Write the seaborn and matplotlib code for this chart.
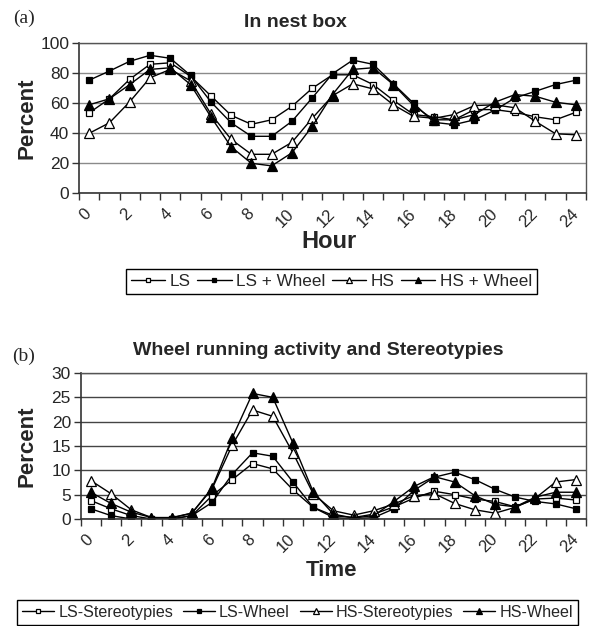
import matplotlib
matplotlib.use("Agg")
import matplotlib.pyplot as plt
import matplotlib.transforms as mtransforms
import numpy as np
import seaborn as sns

# ── Data ───────────────────────────────────────────────────────────────────
hours = list(range(25))

nest_ls = [53.6, 63, 76, 86, 87, 78, 65, 52, 46, 49, 58, 70, 79,
           79, 72.5, 62, 52.5, 51, 49, 55.8, 55.8, 54, 51, 49, 54]
nest_ls_wheel = [75.4, 81.5, 88, 92, 90, 78.6, 61, 47, 38, 38, 48, 63.6, 79.7,
                 88.8, 86, 73, 60, 47.3, 45.8, 49, 55.4, 63.6, 68, 72.5, 75.4]
nest_hs = [40, 47, 61, 77, 82.6, 75, 53, 36, 26, 26, 34, 50, 65,
           73, 69.6, 59, 51.3, 50, 52.5, 58.5, 59, 57, 48, 39.7, 39]
nest_hs_wheel = [59, 63, 72.5, 82.6, 83.7, 72.5, 51, 31, 20, 18.3, 27, 44.6, 65.8,
                 82.6, 83.7, 72.5, 58.5, 49, 49, 52.5, 60.7, 65.8, 64.7, 60.7, 59]

ls_stereo = [3.8, 2.1, 0.7, 0, 0, 0.7, 4.8, 8.1, 11.4, 10.3, 6.0, 2.4, 0.7,
             0.3, 1.0, 2.5, 4.3, 5.7, 5.0, 4.1, 3.6, 2.5, 4.1, 4.3, 3.9]
ls_wheel = [2.1, 0.7, 0, 0, 0, 0.7, 3.4, 9.2, 13.6, 12.9, 7.6, 2.4, 0.3,
            0, 0.3, 2.1, 5.9, 8.6, 9.6, 8.1, 6.1, 4.5, 3.6, 3.1, 2.1]
hs_stereo = [7.9, 5.2, 1.9, 0.3, 0.3, 1.2, 6.2, 15.2, 22.4, 21.1, 13.6, 5.2, 1.7,
             0.8, 1.7, 3.1, 4.8, 5.2, 3.2, 1.9, 1.2, 2.4, 4.3, 7.6, 8.1]
hs_wheel = [5.5, 3.2, 1.4, 0.3, 0.2, 1.2, 6.4, 16.7, 25.8, 25.0, 15.6, 5.6, 1.0,
            0.2, 0.7, 3.6, 6.7, 8.7, 7.6, 4.8, 3.0, 2.5, 4.5, 5.5, 5.5]

nest_labels = ["LS", "LS + Wheel", "HS", "HS + Wheel"]
wheel_labels = ["LS-Stereotypies", "LS-Wheel", "HS-Stereotypies", "HS-Wheel"]
x_ticklabels = [str(h) for h in hours[::2]]

# marker, face colour, size for each of the four series
STYLES = [("s", "white", 5), ("s", "black", 5), ("^", "white", 6.5), ("^", "black", 6.5)]

W, H = 591, 626


def px(x, y):
    return x / W, 1 - y / H


def draw_panel(fig, ax, series, labels, ymax, ystep, grid_color):
    for values, label, (marker, face, size) in zip(series, labels, STYLES):
        sns.lineplot(
            x=hours, y=values, ax=ax, color="black", lw=1.0,
            marker=marker, markerfacecolor=face, markeredgecolor="black",
            markeredgewidth=0.9, markersize=size, label=label, legend=False,
        )
    ax.set_xlim(-0.5, 24.5)
    ax.set_ylim(0, ymax)
    ax.set_yticks(np.arange(0, ymax + 1, ystep))
    ax.set_xticks(hours[::2])
    ax.set_xticklabels(x_ticklabels, rotation=45, ha="right", va="center",
                       rotation_mode="anchor")
    # Excel puts the rotated labels a little left of the category centre
    shift = mtransforms.ScaledTranslation(-0.17, 0, fig.dpi_scale_trans)
    for lab in ax.get_xticklabels():
        lab.set_transform(lab.get_transform() + shift)
    ax.set_xticks(np.arange(-0.5, 25, 1), minor=True)
    ax.tick_params(axis="x", which="major", length=0, pad=13, labelsize=12)
    ax.tick_params(axis="x", which="minor", length=5, width=1, color="#333333",
                   direction="out", bottom=True)
    ax.tick_params(axis="y", length=5, width=1, color="#333333", labelsize=12.5,
                   left=True, pad=2)
    ax.yaxis.grid(True, color=grid_color, lw=1)
    ax.xaxis.grid(False)
    ax.set_axisbelow(True)
    for side in ["left", "bottom"]:
        ax.spines[side].set_color("#333333")
        ax.spines[side].set_linewidth(1.2)
    for side in ["top", "right"]:
        ax.spines[side].set_color("#555555")
        ax.spines[side].set_linewidth(1.0)
    ax.set_xlabel("")
    ax.set_ylabel("")


def main():
    sns.set_theme(style="white")
    plt.rcParams["font.family"] = ["Liberation Sans", "DejaVu Sans"]

    fig = plt.figure(figsize=(W / 100, H / 100), dpi=100)

    # ── (a) In nest box ──────────────────────────────────────────────────
    ax1 = fig.add_axes([79 / W, 1 - 193.3 / H, 507 / W, 150 / H])
    draw_panel(fig, ax1, [nest_ls, nest_ls_wheel, nest_hs, nest_hs_wheel],
               nest_labels, 100, 20, "#8a8a8a")

    # ── (b) Wheel running & stereotypies ─────────────────────────────────
    ax2 = fig.add_axes([80.7 / W, 1 - 519 / H, 505.3 / W, 146 / H])
    draw_panel(fig, ax2, [ls_stereo, ls_wheel, hs_stereo, hs_wheel],
               wheel_labels, 30, 5, "#444444")

    # ── Text ─────────────────────────────────────────────────────────────
    serif = ["Liberation Serif", "DejaVu Serif"]
    fig.text(*px(24, 18), "(a)", family=serif, fontsize=14, ha="center", va="center")
    fig.text(*px(24, 356), "(b)", family=serif, fontsize=14, ha="center", va="center")
    fig.text(*px(295.5, 27), "In nest box", fontsize=14, fontweight="bold",
             ha="center", va="baseline")
    fig.text(*px(318.5, 355), "Wheel running activity and Stereotypies",
             fontsize=14, fontweight="bold", ha="center", va="baseline")
    fig.text(*px(27, 118), "Percent", fontsize=16, fontweight="bold",
             rotation=90, ha="center", va="center")
    fig.text(*px(27, 446), "Percent", fontsize=16, fontweight="bold",
             rotation=90, ha="center", va="center")
    fig.text(*px(329, 241), "Hour", fontsize=17, fontweight="bold",
             ha="center", va="center")
    fig.text(*px(331, 571), "Time", fontsize=16, fontweight="bold",
             ha="center", va="center")

    # ── Legends ──────────────────────────────────────────────────────────
    h1, l1 = ax1.get_legend_handles_labels()
    fig.legend(h1, l1, loc="center", bbox_to_anchor=px(331.5, 281.5), ncol=4,
               fontsize=12.3, frameon=True, fancybox=False, edgecolor="black",
               framealpha=1, markerscale=0.6, handlelength=2.0,
               handletextpad=0.25, columnspacing=0.4, borderpad=0.3,
               borderaxespad=0)
    h2, l2 = ax2.get_legend_handles_labels()
    fig.legend(h2, l2, loc="upper center", bbox_to_anchor=px(297.5, 600),
               ncol=4, fontsize=11.6, frameon=True, fancybox=False,
               edgecolor="black", framealpha=1, markerscale=0.6,
               handlelength=2.0, handletextpad=0.25, columnspacing=0.6,
               borderpad=0.3, borderaxespad=0)

    fig.savefig("out.png", dpi=100)
    plt.close(fig)


if __name__ == "__main__":
    main()
